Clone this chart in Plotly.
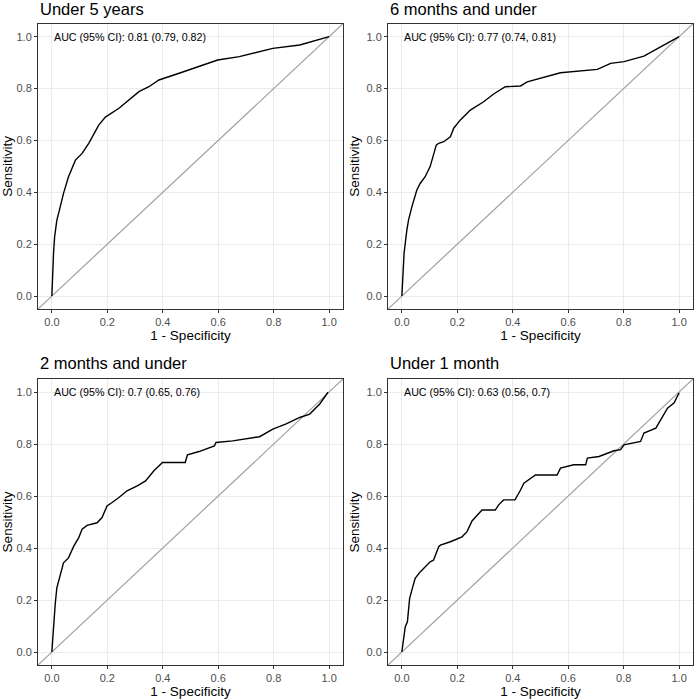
import plotly.graph_objects as go

# ---------------- data ----------------
titles = ["Under 5 years", "6 months and under", "2 months and under", "Under 1 month"]
auc_labels = ["AUC (95% CI): 0.81 (0.79, 0.82)",
              "AUC (95% CI): 0.77 (0.74, 0.81)",
              "AUC (95% CI): 0.7 (0.65, 0.76)",
              "AUC (95% CI): 0.63 (0.56, 0.7)"]

fpr_u5 = [0.0, 0.002, 0.006, 0.01, 0.018, 0.027, 0.042, 0.06, 0.085, 0.109, 0.133, 0.169, 0.193,
          0.242, 0.278, 0.314, 0.35, 0.386, 0.459, 0.531, 0.598, 0.676, 0.797, 0.894, 0.996, 1.0]
tpr_u5 = [0.0, 0.087, 0.165, 0.229, 0.293, 0.33, 0.396, 0.46, 0.524, 0.55, 0.589, 0.659, 0.69,
          0.724, 0.756, 0.788, 0.807, 0.833, 0.859, 0.884, 0.91, 0.923, 0.955, 0.968, 0.997, 1.0]

fpr_6m = [0.0, 0.008, 0.018, 0.024, 0.036, 0.054, 0.066, 0.084, 0.102, 0.114, 0.124, 0.133, 0.151,
          0.175, 0.187, 0.211, 0.247, 0.295, 0.331, 0.373, 0.428, 0.452, 0.512, 0.572, 0.705, 0.753,
          0.801, 0.873, 0.946, 1.0]
tpr_6m = [0.0, 0.165, 0.254, 0.293, 0.344, 0.409, 0.434, 0.46, 0.499, 0.55, 0.582, 0.589, 0.595,
          0.614, 0.647, 0.679, 0.717, 0.749, 0.779, 0.807, 0.81, 0.826, 0.843, 0.861, 0.874, 0.897,
          0.904, 0.925, 0.968, 1.0]

fpr_2m = [0.0, 0.006, 0.012, 0.018, 0.03, 0.042, 0.06, 0.079, 0.097, 0.109, 0.127, 0.163, 0.181,
          0.199, 0.217, 0.242, 0.271, 0.308, 0.338, 0.368, 0.399, 0.481, 0.489, 0.531, 0.586, 0.592,
          0.652, 0.749, 0.797, 0.845, 0.894, 0.93, 0.966, 0.996]
tpr_2m = [0.0, 0.112, 0.183, 0.247, 0.298, 0.343, 0.362, 0.407, 0.44, 0.472, 0.487, 0.497, 0.517,
          0.562, 0.575, 0.594, 0.62, 0.639, 0.658, 0.697, 0.729, 0.729, 0.758, 0.771, 0.793, 0.806,
          0.812, 0.828, 0.857, 0.877, 0.902, 0.915, 0.954, 0.999]

fpr_1m = [0.0, 0.012, 0.02, 0.028, 0.036, 0.048, 0.066, 0.084, 0.102, 0.114, 0.133, 0.139, 0.175,
          0.217, 0.235, 0.253, 0.283, 0.289, 0.337, 0.349, 0.367, 0.408, 0.428, 0.44, 0.482, 0.56,
          0.572, 0.62, 0.663, 0.669, 0.711, 0.765, 0.789, 0.801, 0.861, 0.873, 0.916, 0.934, 0.958,
          0.982, 1.0]
tpr_1m = [0.0, 0.096, 0.116, 0.206, 0.238, 0.283, 0.308, 0.328, 0.347, 0.353, 0.405, 0.411, 0.424,
          0.443, 0.463, 0.504, 0.54, 0.546, 0.546, 0.566, 0.585, 0.585, 0.623, 0.649, 0.681, 0.681,
          0.707, 0.72, 0.72, 0.746, 0.752, 0.774, 0.778, 0.797, 0.81, 0.842, 0.861, 0.893, 0.938,
          0.958, 0.997]

curves = [(fpr_u5, tpr_u5), (fpr_6m, tpr_6m), (fpr_2m, tpr_2m), (fpr_1m, tpr_1m)]
diag = [-0.1, 1.1]
tick_vals = [0.0, 0.2, 0.4, 0.6, 0.8, 1.0]
tick_text = ["0.0", "0.2", "0.4", "0.6", "0.8", "1.0"]

# ---------------- layout ----------------
W = H = 700
xdoms = [(38, 343), (388, 693)]
ydoms = [(23.7, 309), (379, 665)]  # pixel rows from top
title_y = [9.5, 363.5]

fig = go.Figure()
FONT = "Liberation Sans, Arial, sans-serif"

for i, (fx, ty) in enumerate(curves):
    r, c = divmod(i, 2)
    ax = "" if i == 0 else str(i + 1)
    xa, ya = "x" + ax, "y" + ax
    fig.add_trace(go.Scatter(x=diag, y=diag, mode="lines", line=dict(color="#A0A0A0", width=1.2),
                             xaxis=xa, yaxis=ya, showlegend=False, hoverinfo="skip"))
    fig.add_trace(go.Scatter(x=fx, y=ty, mode="lines", line=dict(color="black", width=1.4),
                             xaxis=xa, yaxis=ya, showlegend=False))
    x0, x1 = xdoms[c]
    y0, y1 = ydoms[r]
    common = dict(range=[-0.05, 1.05], tickvals=tick_vals, ticktext=tick_text,
                  ticks="outside", ticklen=3, tickwidth=1, tickcolor="#333333",
                  showline=True, mirror=True, linecolor="#333333", linewidth=1,
                  showgrid=True, gridcolor="#EBEBEB", gridwidth=1, zeroline=False,
                  tickfont=dict(size=11, color="#4D4D4D", family=FONT), fixedrange=True)
    fig.layout["xaxis" + ax] = dict(domain=[x0 / W, x1 / W], anchor=ya,
                                    title=dict(text="1 - Specificity", standoff=3,
                                               font=dict(size=13.5, color="black", family=FONT)),
                                    **common)
    fig.layout["yaxis" + ax] = dict(domain=[1 - y1 / H, 1 - y0 / H], anchor=xa,
                                    title=dict(text="Sensitivity", standoff=3,
                                               font=dict(size=13.5, color="black", family=FONT)),
                                    **common)
    fig.add_annotation(x=0, y=1.0, xref=xa, yref=ya, text=auc_labels[i], showarrow=False,
                       xanchor="left", yanchor="middle",
                       font=dict(size=10.7, color="black", family=FONT))
    fig.add_annotation(x=x0 / W, y=1 - title_y[r] / H, xref="paper", yref="paper",
                       text=titles[i], showarrow=False, xanchor="left", yanchor="middle",
                       font=dict(size=16.5, color="black", family=FONT))

fig.update_layout(width=W, height=H, margin=dict(l=0, r=0, t=0, b=0),
                  paper_bgcolor="white", plot_bgcolor="white",
                  font=dict(family=FONT))
fig.write_html("out.html")
